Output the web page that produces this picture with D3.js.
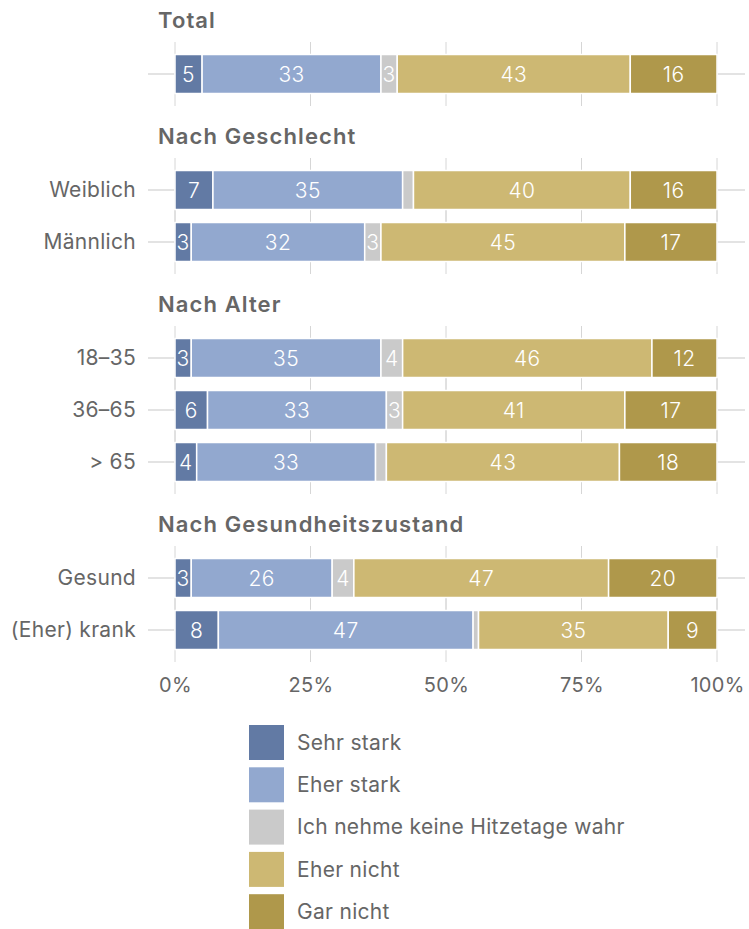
<!DOCTYPE html>
<html>
<head>
<meta charset="utf-8">
<script src="https://cdn.jsdelivr.net/npm/d3@7"></script>
<style>
  html, body { margin: 0; padding: 0; background: #fff; }
  svg text { font-family: Inter, "Noto Sans", sans-serif; }
</style>
</head>
<body>
<svg id="chart" width="749" height="929"></svg>
<script>
// ---- data ----
const seriesNames = ["Sehr stark", "Eher stark", "Ich nehme keine Hitzetage wahr", "Eher nicht", "Gar nicht"];
const sections = ["Total", "Nach Geschlecht", "Nach Alter", "Nach Gesundheitszustand"];
const rowLabels = ["", "Weiblich", "Männlich", "18–35", "36–65", "> 65", "Gesund", "(Eher) krank"];
const rowSection = [0, 1, 1, 2, 2, 2, 3, 3];
const sehrStark  = [5, 7, 3, 3, 6, 4, 3, 8];
const eherStark  = [33, 35, 32, 35, 33, 33, 26, 47];
const keine      = [3, 2, 3, 4, 3, 2, 4, 1];
const eherNicht  = [43, 40, 45, 46, 41, 43, 47, 35];
const garNicht   = [16, 16, 17, 12, 17, 18, 20, 9];
const xTicks = [0, 25, 50, 75, 100];
const colors = ["#627aa4", "#92a8cf", "#cacaca", "#cdb873", "#af984b"];

// ---- layout ----
const svg = d3.select("#chart");
const x = d3.scaleLinear().domain([0, 100]).range([175, 717]);
const color = d3.scaleOrdinal().domain(seriesNames).range(colors);

const titleY = [];
const rowY = [];
let cur = 0;
let prevSec = -1;
rowLabels.forEach((r, i) => {
  if (rowSection[i] !== prevSec) {
    const t = i === 0 ? 20 : cur + 62;
    titleY.push(t);
    cur = t + 54;
    prevSec = rowSection[i];
  } else {
    cur += 52;
  }
  rowY.push(cur);
});

const barH = 39;
const rows = rowLabels.map((label, i) => {
  const vals = [sehrStark[i], eherStark[i], keine[i], eherNicht[i], garNicht[i]];
  let acc = 0;
  const segs = vals.map((v, k) => { const s = {name: seriesNames[k], v, x0: acc, x1: acc + v}; acc += v; return s; });
  return {label, y: rowY[i], segs};
});

// grid
const grid = svg.append("g");
rows.forEach(r => {
  grid.append("line").attr("x1", 148).attr("x2", 745).attr("y1", r.y).attr("y2", r.y)
    .attr("stroke", "#dadada").attr("stroke-width", 1.5);
  xTicks.forEach(t => {
    grid.append("line").attr("x1", x(t)).attr("x2", x(t)).attr("y1", r.y - 32).attr("y2", r.y + 32)
      .attr("stroke", "#d6d6d6").attr("stroke-width", 1);
  });
});

// section titles
svg.append("g").selectAll("text").data(sections).join("text")
  .attr("x", 158).attr("y", (d, i) => titleY[i]).attr("dy", "0.35em")
  .attr("font-size", 22).attr("font-weight", 600).attr("fill", "#666")
  .attr("letter-spacing", 1.1)
  .text(d => d);

// bars
const rowG = svg.append("g").selectAll("g").data(rows).join("g");
rowG.selectAll("rect").data(d => d.segs.map(s => ({...s, y: d.y}))).join("rect")
  .attr("x", d => x(d.x0)).attr("width", d => x(d.x1) - x(d.x0))
  .attr("y", d => d.y - barH / 2).attr("height", barH)
  .attr("fill", d => color(d.name)).attr("stroke", "#fff").attr("stroke-width", 1.5);
rowG.selectAll("text.v").data(d => d.segs.filter(s => s.v >= 3).map(s => ({...s, y: d.y}))).join("text")
  .attr("class", "v")
  .attr("x", d => (x(d.x0) + x(d.x1)) / 2).attr("y", d => d.y).attr("dy", "0.36em")
  .attr("text-anchor", "middle").attr("font-size", 21).attr("font-weight", 300).attr("fill", "#fff")
  .attr("letter-spacing", 0.4)
  .text(d => d.v);

// row labels
svg.append("g").selectAll("text").data(rows).join("text")
  .attr("x", 136).attr("y", d => d.y).attr("dy", "0.35em")
  .attr("text-anchor", "end").attr("font-size", 21).attr("font-weight", 400).attr("fill", "#666")
  .attr("letter-spacing", 0.3)
  .text(d => d.label);

// x axis
const axisY = rowY[rowY.length - 1] + 52;
const axis = svg.append("g").attr("transform", `translate(0,${axisY})`)
  .call(d3.axisBottom(x).tickValues(xTicks).tickFormat(d => d + "%").tickSize(0));
axis.select(".domain").remove();
axis.selectAll("text").attr("font-size", 20).attr("font-weight", 400).attr("fill", "#666").attr("dy", "0.35em")
  .attr("font-family", "Inter, sans-serif").attr("letter-spacing", 0.3);

// legend
const leg = svg.append("g").selectAll("g").data(seriesNames).join("g")
  .attr("transform", (d, i) => `translate(249,${725 + i * 42.3})`);
leg.append("rect").attr("width", 35).attr("height", 35).attr("fill", d => color(d));
leg.append("text").attr("x", 48).attr("y", 17.5).attr("dy", "0.35em")
  .attr("font-size", 21).attr("font-weight", 400).attr("fill", "#666")
  .attr("letter-spacing", 0.3).text(d => d);
</script>
</body>
</html>
